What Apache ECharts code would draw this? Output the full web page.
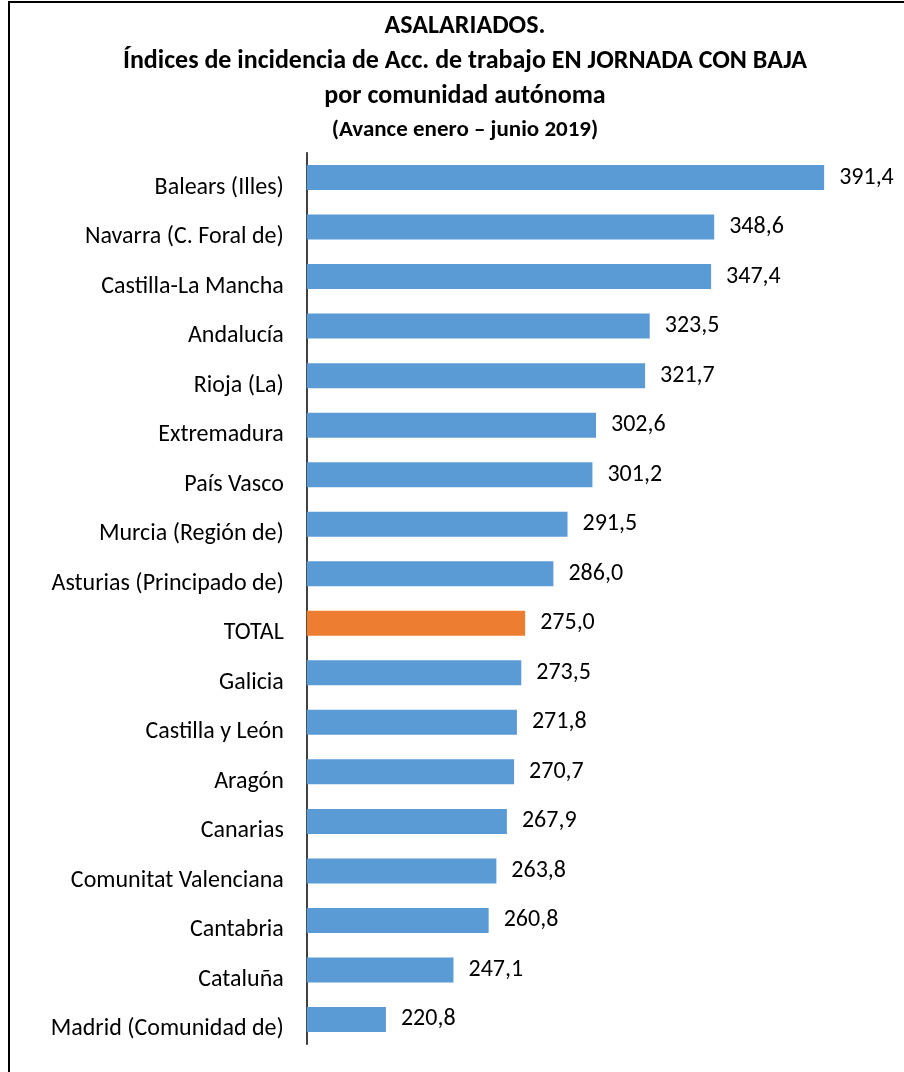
<!DOCTYPE html>
<html>
<head>
<meta charset="utf-8">
<script src="https://cdn.jsdelivr.net/npm/echarts@6/dist/echarts.min.js"></script>
<style>
  html, body { margin: 0; padding: 0; background: #fff; }
  #chart { width: 904px; height: 1072px; }
</style>
</head>
<body>
<div id="chart"></div>
<script>
// comunidades (de arriba a abajo)
const regions = [
    'Balears (Illes)', 'Navarra (C. Foral de)', 'Castilla-La Mancha', 'Andalucía',
    'Rioja (La)', 'Extremadura', 'País Vasco', 'Murcia (Región de)',
    'Asturias (Principado de)', 'TOTAL', 'Galicia', 'Castilla y León', 'Aragón',
    'Canarias', 'Comunitat Valenciana', 'Cantabria', 'Cataluña', 'Madrid (Comunidad de)'
];
const indices = [
    391.4, 348.6, 347.4, 323.5, 321.7, 302.6, 301.2, 291.5, 286.0,
    275.0, 273.5, 271.8, 270.7, 267.9, 263.8, 260.8, 247.1, 220.8
];
const highlight = 'TOTAL';

const font = "Carlito, Calibri, 'Open Sans', sans-serif";

let myChart = echarts.init(document.getElementById('chart'));

let option = {
    animation: false,
    textStyle: { fontFamily: font },
    title: {
        left: 460,
        top: 4,
        textAlign: 'center',
        text: 'ASALARIADOS.\nÍndices de incidencia de Acc. de trabajo EN JORNADA CON BAJA\npor comunidad autónoma',
        textStyle: {
            fontFamily: font,
            fontSize: 26,
            fontWeight: 'bold',
            color: '#000',
            lineHeight: 35
        },
        subtext: '(Avance enero – junio 2019)',
        subtextStyle: {
            fontFamily: font,
            fontSize: 23,
            fontWeight: 'bold',
            color: '#000',
            lineHeight: 26
        },
        itemGap: 3
    },
    graphic: [{
        type: 'rect',
        shape: { x: 9, y: 2, width: 1000, height: 1200 },
        style: { fill: 'none', stroke: '#000', lineWidth: 2 }
    }],
    grid: {
        left: 306.8,
        right: 6.4,
        top: 152.75,
        bottom: 27.75,
        containLabel: false
    },
    xAxis: {
        type: 'value',
        min: 190,
        max: 420,
        show: false
    },
    yAxis: {
        type: 'category',
        inverse: true,
        data: regions,
        axisLine: { show: true, lineStyle: { color: '#000', width: 1.5 } },
        axisTick: { show: false },
        axisLabel: {
            color: '#000',
            fontSize: 24,
            fontFamily: font,
            margin: 23,
            verticalAlign: 'top',
            lineHeight: 20
        }
    },
    series: [{
        type: 'bar',
        barWidth: 25,
        data: indices.map((v, i) => ({
            value: v,
            itemStyle: { color: regions[i] === highlight ? '#ED7D31' : '#5B9BD5' }
        })),
        label: {
            show: true,
            position: 'right',
            distance: 15,
            color: '#000',
            fontSize: 24,
            fontFamily: font,
            formatter: p => p.value.toFixed(1).replace('.', ',')
        }
    }]
};

myChart.setOption(option, true);
window.addEventListener('resize', () => {
    myChart.resize();
});
</script>
</body>
</html>
